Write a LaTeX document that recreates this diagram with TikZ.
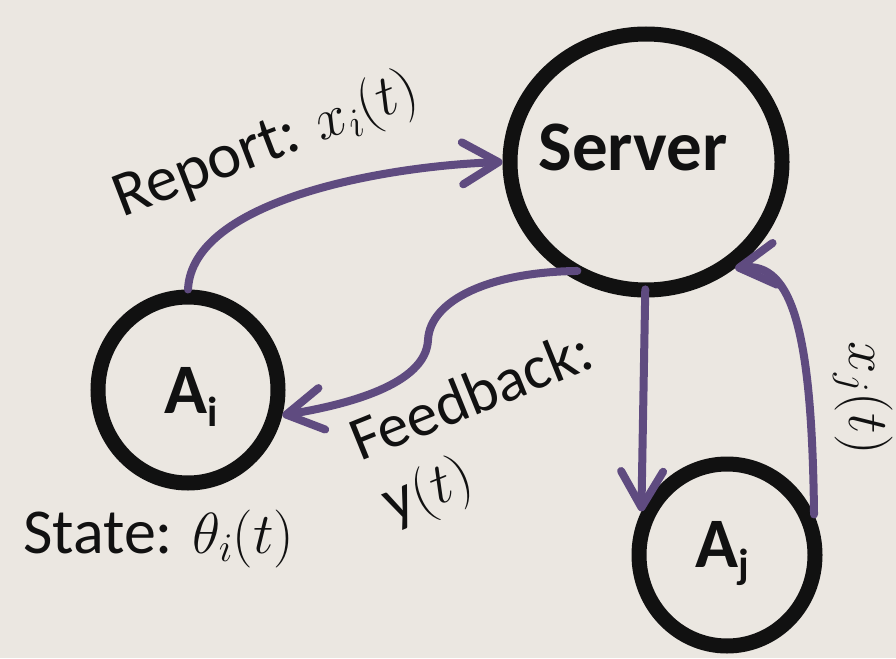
\RequirePackage{fix-cm}
\documentclass[tikz,border=0pt]{standalone}
\usepackage{fontspec}
\setmainfont{Carlito}
\usetikzlibrary{arrows.meta,shapes.geometric}
\definecolor{bg}{RGB}{235,231,225}
\definecolor{arrowpurple}{RGB}{95,75,128}
\definecolor{ink}{RGB}{17,17,17}
\newcommand{\mth}[1]{{\fontsize{58}{64}\selectfont$#1$}}
\begin{document}
\begin{tikzpicture}[x=1pt,y=-1pt,
  agent/.style={ellipse, draw=ink, line width=15pt, inner sep=0pt},
  flow/.style={draw=arrowpurple, line width=8pt, line cap=round,
    -{Straight Barb[length=36pt,width=42pt,round]}},
  lbl/.style={text=ink, font=\fontsize{64}{70}\selectfont, inner sep=0pt},
  boldlbl/.style={text=ink, font=\fontsize{71}{74}\selectfont\bfseries, inner sep=0pt}]
\fill[bg] (0,0) rectangle (896,658);
\useasboundingbox (0,0) rectangle (896,658);

% circles
\node[agent, minimum width=272pt, minimum height=256pt] (server) at (646,162) {};
\node[agent, minimum width=180pt, minimum height=186pt] (ai) at (188,390) {};
\node[agent, minimum width=176pt, minimum height=182pt] (aj) at (727,555) {};

% texts in circles
\node[boldlbl] (servertxt) at (633,147) {Server};
\node[boldlbl, anchor=base] (aitxt) at (191,413) {A\raisebox{-13pt}{\fontsize{42}{42}\selectfont i}};
\node[boldlbl, anchor=base] (ajtxt) at (722,567) {A\raisebox{-11pt}{\fontsize{42}{42}\selectfont j}};

% labels
\node[lbl, rotate=21, anchor=base west] (report) at (122,218) {Report: \mth{x_i(t)}};
\node[lbl, rotate=22, anchor=base west] (fb) at (360,462) {\fontsize{62}{68}\selectfont Feedback:};
\node[lbl, rotate=22, anchor=base west] (yt) at (392,524) {y\mth{(t)}};
\node[lbl, rotate=-90] (xj) at (863,398) {\mth{x_j(t)}};
\node[lbl, anchor=base west] (state) at (23,553) {State: \mth{\theta_i(t)}};

% connectors
\draw[flow] (ai.north) .. controls (192,200) and (385,166) .. (server.west);
\draw[flow] ([shift={(0,-10)}]server.240) .. controls (490,272) and (430,300) .. (428,340)
  .. controls (426,385) and (345,405) .. (ai.-15);
\draw[flow] ([shift={(4,-8)}]server.268) -- (aj.153);
\draw[flow] (aj.25) .. controls (812,330) and (792,262) .. (server.-50);
\end{tikzpicture}
\end{document}
